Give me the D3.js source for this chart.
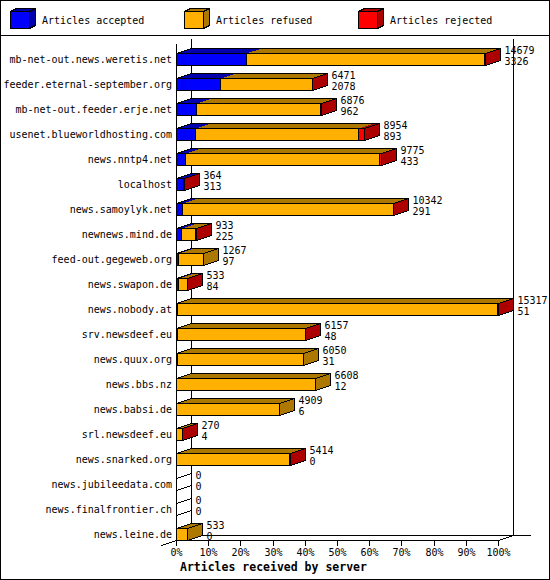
<!DOCTYPE html>
<html lang="en">
<head>
<meta charset="UTF-8">
<title>Articles received by server</title>
<style>
  body { margin: 0; background: #fff; }
  svg { display: block; }
  text { font-family: "DejaVu Sans Mono", monospace; font-size: 10px; fill: #000; }
</style>
</head>
<body>
<script src="https://cdnjs.cloudflare.com/ajax/libs/d3/7.8.5/d3.min.js"></script>
<script>
'use strict';
// data
const servers = [
  "mb-net-out.news.weretis.net", "feeder.eternal-september.org", "mb-net-out.feeder.erje.net",
  "usenet.blueworldhosting.com", "news.nntp4.net", "localhost", "news.samoylyk.net",
  "newnews.mind.de", "feed-out.gegeweb.org", "news.swapon.de", "news.nobody.at",
  "srv.newsdeef.eu", "news.quux.org", "news.bbs.nz", "news.babsi.de", "srl.newsdeef.eu",
  "news.snarked.org", "news.jubileedata.com", "news.finalfrontier.ch", "news.leine.de"
];
const accepted = [3326, 2078, 962, 893, 433, 313, 291, 225, 97, 84, 51, 48, 31, 12, 6, 4, 0, 0, 0, 0];
const refused  = [11313, 4368, 5884, 7761, 9242, 0, 10031, 693, 1170, 439, 15236, 6089, 6019, 6596, 4903, 261, 5394, 0, 0, 533];
const rejected = [40, 25, 30, 300, 100, 51, 20, 15, 0, 10, 30, 20, 0, 0, 0, 5, 20, 0, 0, 0];
const seriesNames = ["Articles accepted", "Articles refused", "Articles rejected"];
const tickLabels = ["0%", "10%", "20%", "30%", "40%", "50%", "60%", "70%", "80%", "90%", "100%"];

const colors = ["#0000ff", "#ffb000", "#ff0000"];
const darks  = ["#0000ad", "#ad7800", "#ad0000"];
const DX = 15, DY = -5;

const svg = d3.select("body").append("svg")
  .attr("width", 550)
  .attr("height", 580)
  .attr("shape-rendering", "crispEdges");

svg.append("rect")
  .attr("x", 0.5).attr("y", 0.5).attr("width", 549).attr("height", 579)
  .attr("fill", "#fff").attr("stroke", "#000");
svg.append("line")
  .attr("x1", 0).attr("x2", 550).attr("y1", 35.5).attr("y2", 35.5)
  .attr("stroke", "#000");

// legend
const leg = svg.selectAll("g.leg").data(seriesNames).enter().append("g")
  .attr("transform", (d, i) => `translate(${10 + i * 174},0)`);
leg.append("polygon")
  .attr("points", "0.5,11.5 6.5,8.5 25.5,8.5 19.5,11.5")
  .attr("fill", (d, i) => darks[i]).attr("stroke", "#000");
leg.append("polygon")
  .attr("points", "19.5,11.5 25.5,8.5 25.5,25.5 19.5,28.5")
  .attr("fill", (d, i) => darks[i]).attr("stroke", "#000");
leg.append("rect")
  .attr("x", 0.5).attr("y", 11.5).attr("width", 19).attr("height", 17)
  .attr("fill", (d, i) => colors[i]).attr("stroke", "#000");
leg.append("text").attr("x", 32).attr("y", 24).text(d => d);

// scales
const totals = servers.map((s, i) => accepted[i] + refused[i] + rejected[i]);
const x = d3.scaleLinear().domain([0, d3.max(totals)]).range([176, 498]);
const pct = d3.scaleLinear().domain([0, 100]).range([176, 498]);
const y = d3.scaleBand().domain(servers).range([46.5, 546.5])
  .paddingInner(0.52).paddingOuter(0.26);

const px = v => Math.round(v) + 0.5;
const X0 = px(x(0)), Y0 = px(540);

// walls and axis
const axisLines = [
  [X0, 44, X0, Y0],
  [X0 + DX, 39, X0 + DX, Y0 + DY],
  [px(pct(100)) + DX, 39, px(pct(100)) + DX, Y0 + DY],
  [X0 + DX, Y0 + DY, 531, Y0 + DY],
  [X0, Y0, px(pct(100)), Y0],
  [px(pct(100)), Y0, px(pct(100)) + DX, Y0 + DY],
  [X0 - DX, Y0 - DY, X0, Y0]
];
svg.append("g").selectAll("line").data(axisLines).enter().append("line")
  .attr("x1", d => d[0]).attr("y1", d => d[1]).attr("x2", d => d[2]).attr("y2", d => d[3])
  .attr("stroke", "#000");

const ticks = svg.append("g").selectAll("g").data(tickLabels).enter().append("g")
  .attr("transform", (d, i) => `translate(${px(pct(i * 10))},0)`);
ticks.append("line").attr("y1", Y0).attr("y2", Y0 + 5).attr("stroke", "#000");
ticks.append("text").attr("y", 556).attr("text-anchor", "middle").text(d => d);

svg.append("text")
  .attr("x", 180).attr("y", 571)
  .style("font-weight", "bold").style("font-size", "11.5px")
  .text("Articles received by server");

// bars
const rows = svg.append("g").selectAll("g.row")
  .data(servers.map((s, i) => ({ name: s, vals: [accepted[i], refused[i], rejected[i]], total: totals[i] })))
  .enter().append("g");

rows.each(function(d) {
  const g = d3.select(this);
  const top = px(y(d.name));
  const bot = top + y.bandwidth();
  let c = 0;
  const segs = [];
  d.vals.forEach((v, k) => {
    if (v > 0) segs.push({ k: k, x0: px(x(c)), x1: px(x(c + v)) });
    c += v;
  });
  const xe = px(x(d.total));

  segs.forEach(s => {
    g.append("polygon")
      .attr("points", `${s.x0},${top} ${s.x0 + DX},${top + DY} ${s.x1 + DX},${top + DY} ${s.x1},${top}`)
      .attr("fill", darks[s.k]);
  });
  g.append("polygon")
    .attr("points", `${X0},${top} ${X0 + DX},${top + DY} ${xe + DX},${top + DY} ${xe},${top}`)
    .attr("fill", "none").attr("stroke", "#000");
  const last = segs.length ? segs[segs.length - 1].k : null;
  g.append("polygon")
    .attr("points", `${xe},${top} ${xe + DX},${top + DY} ${xe + DX},${bot + DY} ${xe},${bot}`)
    .attr("fill", last === null ? "none" : darks[last]).attr("stroke", "#000");
  segs.forEach(s => {
    g.append("rect")
      .attr("x", s.x0).attr("y", top).attr("width", s.x1 - s.x0).attr("height", bot - top)
      .attr("fill", colors[s.k]).attr("stroke", "#000");
  });

  g.append("text").attr("x", 172).attr("y", top + 9.5)
    .attr("text-anchor", "end").text(d.name);
  g.append("text").attr("x", xe + 19).attr("y", top + 0.5).text(d.total);
  g.append("text").attr("x", xe + 19).attr("y", top + 11.5).text(d.vals[0]);
});
</script>
</body>
</html>
